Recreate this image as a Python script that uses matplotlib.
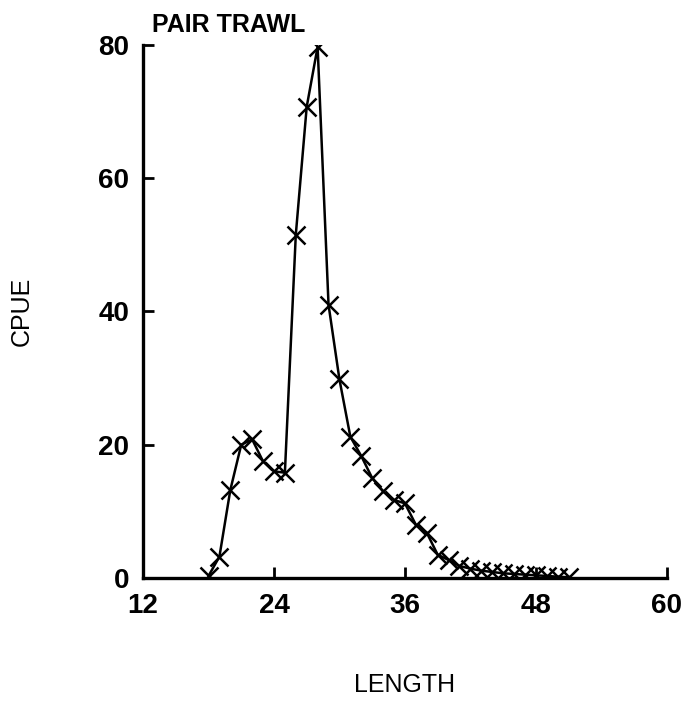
import matplotlib.pyplot as plt

plt.rcParams['font.family'] = ['Liberation Sans', 'DejaVu Sans']

# length classes and catch per unit effort
length = [18, 19, 20, 21, 22, 23, 24, 25, 26, 27, 28, 29, 30, 31, 32, 33, 34,
          35, 36, 37, 38, 39, 40, 41, 42, 43, 44, 45, 46, 47, 48, 49, 50, 51]
cpue = [0.3, 3.2, 13.2, 20.0, 20.8, 17.5, 16.0, 15.8, 51.5, 70.7, 79.7, 41.0,
        29.8, 21.2, 18.3, 15.0, 13.0, 11.7, 11.2, 8.0, 6.8, 3.5, 2.7, 1.8,
        1.4, 1.1, 0.9, 0.7, 0.6, 0.5, 0.4, 0.3, 0.2, 0.1]

xticks = [12, 24, 36, 48, 60]
yticks = [0, 20, 40, 60, 80]

fig = plt.figure(figsize=(6.86, 7.01), dpi=100)
ax = fig.add_axes([0.2085, 0.1755, 0.7635, 0.7605])

ax.plot(length, cpue, color='black', lw=1.8, marker='x', ms=13, mew=1.8)

ax.set_xlim(12, 60)
ax.set_ylim(0, 80)
ax.set_xticks(xticks)
ax.set_yticks(yticks)
ax.tick_params(direction='in', length=8, width=2, labelsize=20)
ax.tick_params(axis='x', pad=11)
ax.tick_params(axis='y', pad=10)
for lab in ax.get_xticklabels() + ax.get_yticklabels():
    lab.set_fontweight('bold')

for s in ['top', 'right']:
    ax.spines[s].set_visible(False)
for s in ['left', 'bottom']:
    ax.spines[s].set_linewidth(2.4)

fig.text(405 / 686, 1 - 685 / 701, 'LENGTH', fontsize=18, ha='center',
         va='center')
fig.text(22 / 686, 1 - 311 / 701, 'CPUE', fontsize=18, rotation=90,
         ha='center', va='center')
fig.text(152 / 686, 1 - 25 / 701, 'PAIR TRAWL', fontsize=18,
         fontweight='bold', ha='left', va='center')

fig.savefig('out.png', dpi=100)
